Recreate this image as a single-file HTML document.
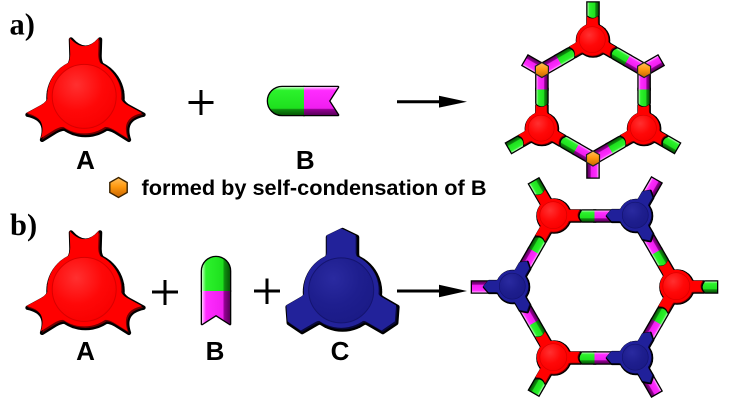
<!DOCTYPE html>
<html>
<head>
<meta charset="utf-8">
<style>
html,body{margin:0;padding:0;background:#fff;}
svg{display:block;}
</style>
</head>
<body>
<svg xmlns="http://www.w3.org/2000/svg" width="733" height="401" viewBox="0 0 733 401">
<defs>
  <linearGradient id="gG" x1="0" y1="0" x2="0" y2="1">
    <stop offset="0" stop-color="#b6ffb6"/><stop offset=".18" stop-color="#2cf22c"/><stop offset=".68" stop-color="#1ee01e"/><stop offset=".74" stop-color="#0f8f0f"/><stop offset="1" stop-color="#065806"/>
  </linearGradient>
  <linearGradient id="gM" x1="0" y1="0" x2="0" y2="1">
    <stop offset="0" stop-color="#ffb6ff"/><stop offset=".18" stop-color="#ff2cff"/><stop offset=".68" stop-color="#f01ef0"/><stop offset=".74" stop-color="#930093"/><stop offset="1" stop-color="#5a005a"/>
  </linearGradient>
  <linearGradient id="gGb" x1="0" y1="0" x2="0" y2="1">
    <stop offset="0" stop-color="#c8ffc8"/><stop offset=".12" stop-color="#2cf22c"/><stop offset=".76" stop-color="#1ee01e"/><stop offset=".8" stop-color="#0f8f0f"/><stop offset="1" stop-color="#065806"/>
  </linearGradient>
  <linearGradient id="gMb" x1="0" y1="0" x2="0" y2="1">
    <stop offset="0" stop-color="#ffc8ff"/><stop offset=".12" stop-color="#ff2cff"/><stop offset=".76" stop-color="#f01ef0"/><stop offset=".8" stop-color="#930093"/><stop offset="1" stop-color="#5a005a"/>
  </linearGradient>
  <linearGradient id="gGh" x1="0" y1="0" x2="1" y2="0">
    <stop offset="0" stop-color="#c8ffc8"/><stop offset=".14" stop-color="#2cf22c"/><stop offset=".74" stop-color="#1ee01e"/><stop offset=".8" stop-color="#0f8f0f"/><stop offset="1" stop-color="#065806"/>
  </linearGradient>
  <linearGradient id="gMh" x1="0" y1="0" x2="1" y2="0">
    <stop offset="0" stop-color="#ffc8ff"/><stop offset=".14" stop-color="#ff2cff"/><stop offset=".74" stop-color="#f01ef0"/><stop offset=".8" stop-color="#930093"/><stop offset="1" stop-color="#5a005a"/>
  </linearGradient>
  <linearGradient id="gO" x1="0" y1="0" x2="0" y2="1">
    <stop offset="0" stop-color="#ffc060"/><stop offset=".45" stop-color="#ff9a10"/><stop offset="1" stop-color="#c86400"/>
  </linearGradient>
  <radialGradient id="rgA" cx=".38" cy=".32" r=".75">
    <stop offset="0" stop-color="#ff3030"/><stop offset=".55" stop-color="#ff0808"/><stop offset="1" stop-color="#f80000"/>
  </radialGradient>
  <radialGradient id="bgA" cx=".38" cy=".32" r=".75">
    <stop offset="0" stop-color="#2a2aa0"/><stop offset=".55" stop-color="#1e1e8e"/><stop offset="1" stop-color="#1a1a86"/>
  </radialGradient>

  <!-- Big A -->
  <path id="Aarm" d="M-24,-28.2 Q-14,-30 -14,-42 L-14.5,-58.5 Q0,-42 14.5,-58.5 L14,-42 Q14,-30 24,-28.2 Z"/>
  <g id="Ashp"><circle r="37"/><use href="#Aarm"/><use href="#Aarm" transform="rotate(120)"/><use href="#Aarm" transform="rotate(240)"/></g>
  <g id="Abig">
    <use href="#Ashp" fill="#000" stroke="#000" stroke-width="4.5" stroke-linejoin="round"/>
    <use href="#Ashp" fill="#700000"/>
    <use href="#Ashp" fill="#ff0000" transform="translate(-1.3,-1.6)"/>
    <circle cx="-1.3" cy="-1.6" r="32" fill="url(#rgA)" stroke="#d80000" stroke-width="1"/>
  </g>

  <!-- Big C -->
  <path id="Carm" d="M-21,-31 Q-14.5,-32 -14.5,-38 L-14.5,-55 L0,-62 L14.5,-55 L14.5,-38 Q14.5,-32 21,-31 Z"/>
  <g id="Cshp"><circle r="37.5"/><use href="#Carm"/><use href="#Carm" transform="rotate(120)"/><use href="#Carm" transform="rotate(240)"/></g>
  <g id="Cbig">
    <use href="#Cshp" fill="#000" stroke="#000" stroke-width="4.5" stroke-linejoin="round"/>
    <use href="#Cshp" fill="#080838"/>
    <use href="#Cshp" fill="#22229a" transform="translate(-1.3,-1.6)"/>
    <circle cx="-1.3" cy="-1.6" r="32.5" fill="url(#bgA)" stroke="#141470" stroke-width="1"/>
  </g>

  <!-- network red node (top) -->
  <path id="rArmT" d="M11,-11.6 Q13,-5.5 17,-5.5 H23.5 Q19,0 23.5,5.5 H17 Q13,5.5 11,11.6 Z"/>
  <g id="rTs"><circle r="16"/><use href="#rArmT" transform="rotate(-90)"/><use href="#rArmT" transform="rotate(30)"/><use href="#rArmT" transform="rotate(150)"/></g>
  <g id="rTn">
    <use href="#rTs" fill="#000" stroke="#000" stroke-width="2.6" stroke-linejoin="round"/>
    <use href="#rTs" fill="#7a0000"/>
    <use href="#rTs" fill="#ff0000" transform="translate(-.7,-.8)"/>
    <circle cx="-.7" cy="-.8" r="13" fill="url(#rgA)" stroke="#d80000" stroke-width=".7"/>
  </g>

  <!-- network red node (bottom) -->
  <path id="rArmB" d="M11,-12.3 Q13,-5.5 17,-5.5 H26.5 Q22,0 26.5,5.5 H17 Q13,5.5 11,12.3 Z"/>
  <g id="rBs"><circle r="16.5"/><use href="#rArmB"/><use href="#rArmB" transform="rotate(120)"/><use href="#rArmB" transform="rotate(240)"/></g>
  <g id="rBn">
    <use href="#rBs" fill="#000" stroke="#000" stroke-width="2.6" stroke-linejoin="round"/>
    <use href="#rBs" fill="#7a0000"/>
    <use href="#rBs" fill="#ff0000" transform="translate(-.7,-.8)"/>
    <circle cx="-.7" cy="-.8" r="13.5" fill="url(#rgA)" stroke="#d80000" stroke-width=".7"/>
  </g>

  <!-- network blue node -->
  <path id="bArm" d="M10.5,-12.1 Q12.5,-5.8 16.5,-5.8 H24 L29,0 L24,5.8 H16.5 Q12.5,5.8 10.5,12.1 Z"/>
  <g id="bBs"><circle r="16"/><use href="#bArm" transform="rotate(60)"/><use href="#bArm" transform="rotate(180)"/><use href="#bArm" transform="rotate(300)"/></g>
  <g id="bBn">
    <use href="#bBs" fill="#000" stroke="#000" stroke-width="2.6" stroke-linejoin="round"/>
    <use href="#bBs" fill="#05053a"/>
    <use href="#bBs" fill="#20209a" transform="translate(-.7,-.8)"/>
    <circle cx="-.7" cy="-.8" r="13" fill="url(#bgA)" stroke="#141470" stroke-width=".7"/>
  </g>

  <!-- orange hex -->
  <polygon id="ohx" points="0,-7.5 6.5,-3.75 6.5,3.75 0,7.5 -6.5,3.75 -6.5,-3.75" fill="url(#gO)" stroke="#222" stroke-width="1.2"/>

  <!-- bar segments -->
  <path id="tG" d="M40,-5.5 H26.5 A5.5,5.5 0 0 0 26.5,5.5 H40 Z"/>
  <path id="tM" d="M39.5,-5.5 H59 V5.5 H39.5 Z"/>
  <path id="tSG" d="M38,-5.5 H25.5 A5.5,5.5 0 0 0 25.5,5.5 H38 Z"/>
  <path id="tSM" d="M0,-5.5 H19 V5.5 H0 Z"/>
  <path id="bG" d="M41,-5.5 H28.5 A5.5,5.5 0 0 0 28.5,5.5 H41 Z"/>
  <path id="bM" d="M40.5,-5.5 H60 V5.5 H40.5 Z"/>
  <path id="bSG" d="M40,-5.5 H28.5 A5.5,5.5 0 0 0 28.5,5.5 H40 Z"/>
  <path id="bSM" d="M20,-5.5 H41 V5.5 H20 Z"/>

  <g id="tGs">
    <use href="#tG" transform="translate(593,40.5) rotate(30)"/>
    <use href="#tG" transform="translate(593,40.5) rotate(150)"/>
    <use href="#tG" transform="translate(644.1,129) rotate(-90)"/>
    <use href="#tG" transform="translate(644.1,129) rotate(150)"/>
    <use href="#tG" transform="translate(541.9,129) rotate(-90)"/>
    <use href="#tG" transform="translate(541.9,129) rotate(30)"/>
    <use href="#tSG" transform="translate(593,40.5) rotate(-90)"/>
    <use href="#tSG" transform="translate(644.1,129) rotate(30)"/>
    <use href="#tSG" transform="translate(541.9,129) rotate(150)"/>
  </g>
  <g id="tMs">
    <use href="#tM" transform="translate(593,40.5) rotate(30)"/>
    <use href="#tM" transform="translate(593,40.5) rotate(150)"/>
    <use href="#tM" transform="translate(644.1,129) rotate(-90)"/>
    <use href="#tM" transform="translate(644.1,129) rotate(150)"/>
    <use href="#tM" transform="translate(541.9,129) rotate(-90)"/>
    <use href="#tM" transform="translate(541.9,129) rotate(30)"/>
    <use href="#tSM" transform="translate(644.1,70) rotate(-30)"/>
    <use href="#tSM" transform="translate(593,158.5) rotate(90)"/>
    <use href="#tSM" transform="translate(541.9,70) rotate(210)"/>
  </g>
  <g id="bGs">
    <use href="#bG" transform="translate(554,216)"/>
    <use href="#bG" transform="translate(554,216) rotate(120)"/>
    <use href="#bG" transform="translate(554,358) rotate(240)"/>
    <use href="#bG" transform="translate(554,358)"/>
    <use href="#bG" transform="translate(677,287) rotate(240)"/>
    <use href="#bG" transform="translate(677,287) rotate(120)"/>
    <use href="#bSG" transform="translate(677,287)"/>
    <use href="#bSG" transform="translate(554,216) rotate(240)"/>
    <use href="#bSG" transform="translate(554,358) rotate(120)"/>
  </g>
  <g id="bMs">
    <use href="#bM" transform="translate(554,216)"/>
    <use href="#bM" transform="translate(554,216) rotate(120)"/>
    <use href="#bM" transform="translate(554,358) rotate(240)"/>
    <use href="#bM" transform="translate(554,358)"/>
    <use href="#bM" transform="translate(677,287) rotate(240)"/>
    <use href="#bM" transform="translate(677,287) rotate(120)"/>
    <use href="#bSM" transform="translate(636,216) rotate(300)"/>
    <use href="#bSM" transform="translate(513,287) rotate(180)"/>
    <use href="#bSM" transform="translate(636,358) rotate(60)"/>
  </g>
</defs>

<rect width="733" height="401" fill="#fff"/>

<!-- panel labels -->
<text x="9.5" y="34.5" font-family="Liberation Serif, 'Times New Roman', serif" font-weight="bold" font-size="30.5" fill="#000">a)</text>
<text x="10" y="235" font-family="Liberation Serif, 'Times New Roman', serif" font-weight="bold" font-size="30.5" fill="#000">b)</text>

<!-- ===== Row a ===== -->
<use href="#Abig" transform="translate(85.5,98)"/>
<text x="85.5" y="169" text-anchor="middle" font-family="Liberation Sans, Arial, sans-serif" font-weight="bold" font-size="26" fill="#000">A</text>

<g stroke="#000" stroke-width="3">
  <line x1="188.5" y1="102.5" x2="213.5" y2="102.5"/>
  <line x1="201" y1="90" x2="201" y2="115"/>
</g>

<!-- B horizontal -->
<g>
  <path d="M304,87 H282 A14,14 0 0 0 282,115 H304 Z" fill="#000" stroke="#000" stroke-width="2.6" stroke-linejoin="round"/>
  <path d="M304,87 H338 L329,101 L338,115 H304 Z" fill="#000" stroke="#000" stroke-width="2.6" stroke-linejoin="round"/>
  <path d="M304,87 H282 A14,14 0 0 0 282,115 H304 Z" fill="url(#gGb)"/>
  <path d="M304,87 H338 L329,101 L338,115 H304 Z" fill="url(#gMb)"/>
</g>
<text x="305.3" y="169" text-anchor="middle" font-family="Liberation Sans, Arial, sans-serif" font-weight="bold" font-size="26" fill="#000">B</text>

<!-- arrow a -->
<line x1="397" y1="101.7" x2="442" y2="101.7" stroke="#000" stroke-width="3"/>
<polygon points="439,95.8 467,101.7 439,107.6" fill="#000"/>

<!-- top network -->
<use href="#tGs" fill="#000" stroke="#000" stroke-width="2.6"/>
<use href="#tMs" fill="#000" stroke="#000" stroke-width="2.6"/>
<use href="#tGs" fill="url(#gG)"/>
<use href="#tMs" fill="url(#gM)"/>
<use href="#rTn" transform="translate(593,40.5)"/>
<use href="#rTn" transform="translate(644.1,129)"/>
<use href="#rTn" transform="translate(541.9,129)"/>
<use href="#ohx" transform="translate(644.1,70)"/>
<use href="#ohx" transform="translate(593,158.5)"/>
<use href="#ohx" transform="translate(541.9,70)"/>

<!-- caption -->
<polygon points="118.5,177.5 127.2,182.5 127.2,192.5 118.5,197.5 109.8,192.5 109.8,182.5" fill="url(#gO)" stroke="#3a2200" stroke-width="1.4"/>
<text x="141.5" y="195" font-family="Liberation Sans, Arial, sans-serif" font-weight="bold" font-size="21.7" textLength="345" lengthAdjust="spacingAndGlyphs" fill="#000">formed by self-condensation of B</text>

<!-- ===== Row b ===== -->
<use href="#Abig" transform="translate(85.5,291)"/>
<text x="85.5" y="360" text-anchor="middle" font-family="Liberation Sans, Arial, sans-serif" font-weight="bold" font-size="26" fill="#000">A</text>

<g stroke="#000" stroke-width="3">
  <line x1="152" y1="292" x2="178" y2="292"/>
  <line x1="165" y1="280" x2="165" y2="305"/>
  <line x1="254" y1="291" x2="280" y2="291"/>
  <line x1="267" y1="278.5" x2="267" y2="304"/>
</g>

<!-- B vertical -->
<g>
  <path d="M202,291 V271 A14,14 0 0 1 230,271 V291 Z" fill="#000" stroke="#000" stroke-width="2.6" stroke-linejoin="round"/>
  <path d="M202,291 V324 L216,315 L230,324 V291 Z" fill="#000" stroke="#000" stroke-width="2.6" stroke-linejoin="round"/>
  <path d="M202,291 V271 A14,14 0 0 1 230,271 V291 Z" fill="url(#gGh)"/>
  <path d="M202,291 V324 L216,315 L230,324 V291 Z" fill="url(#gMh)"/>
</g>
<text x="215" y="360" text-anchor="middle" font-family="Liberation Sans, Arial, sans-serif" font-weight="bold" font-size="26" fill="#000">B</text>

<use href="#Cbig" transform="translate(342.5,292)"/>
<text x="340" y="360" text-anchor="middle" font-family="Liberation Sans, Arial, sans-serif" font-weight="bold" font-size="26" fill="#000">C</text>

<!-- arrow b -->
<line x1="397" y1="291" x2="442" y2="291" stroke="#000" stroke-width="3"/>
<polygon points="439,284.8 467,291 439,297.2" fill="#000"/>

<!-- bottom network -->
<use href="#bGs" fill="#000" stroke="#000" stroke-width="2.6"/>
<use href="#bMs" fill="#000" stroke="#000" stroke-width="2.6"/>
<use href="#bGs" fill="url(#gG)"/>
<use href="#bMs" fill="url(#gM)"/>
<use href="#rBn" transform="translate(677,287)"/>
<use href="#rBn" transform="translate(554,216)"/>
<use href="#rBn" transform="translate(554,358)"/>
<use href="#bBn" transform="translate(636,216)"/>
<use href="#bBn" transform="translate(513,287)"/>
<use href="#bBn" transform="translate(636,358)"/>
</svg>
</body>
</html>
